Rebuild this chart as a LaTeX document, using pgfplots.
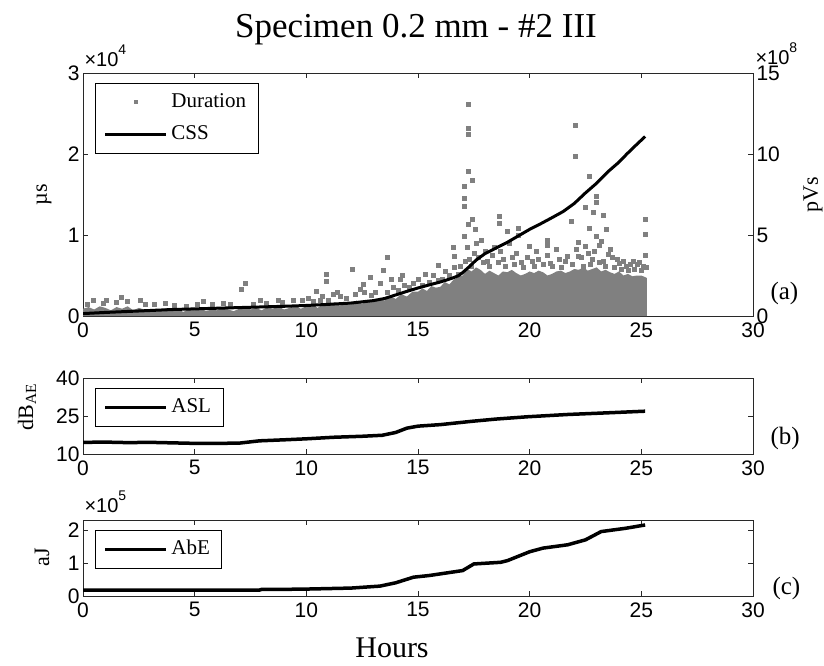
\documentclass[border=0pt]{standalone}
\usepackage{fontspec}
\setmainfont{Liberation Serif}
\newfontfamily\tickfont{Liberation Sans}
\usepackage{pgfplots}
\pgfplotsset{compat=1.18}
\definecolor{durgray}{RGB}{128,128,128}
\definecolor{axgray}{RGB}{40,40,40}
\pgfplotsset{
 mybase/.style={
   scale only axis, width=670pt,
   xmin=0,xmax=30, xtick={0,5,...,30},
   axis line style={axgray, line width=0.8pt},
   tick style={axgray, line width=0.8pt},
   major tick length=5pt,
   tick align=inside,
   /pgf/number format/assume math mode=true,
   ticklabel style={font=\tickfont\fontsize{21}{24}\selectfont},
   xticklabel style={yshift=-3pt},
   scaled ticks=false,
   label style={font=\fontsize{22}{26}\selectfont},
   legend cell align=left,
   legend style={draw=black, line width=0.8pt, inner xsep=8.5pt, inner ysep=3pt,
     at={(axis description cs:0.0179,0.959)}, anchor=north west,
     nodes={inner xsep=3.5pt, inner ysep=6pt, text height=15pt, text depth=5pt, font=\fontsize{21}{24}\selectfont}},
 },
 lineleg/.style={legend image code/.code={\draw[black,line width=3pt] (0pt,0pt) -- (61pt,0pt);}},
}
\begin{document}
\begin{tikzpicture}
\useasboundingbox (0,0) rectangle (824pt,-665pt);
\node[anchor=base, font=\fontsize{35}{40}\selectfont] at (416pt,-37pt) {Specimen 0.2 mm - \#2 III};
% ---------------- panel (a) ----------------
\begin{axis}[mybase, height=243pt, at={(83pt,-73pt)}, anchor=north west,
  ymin=0, ymax=3, ytick={0,1,2,3}, ytick pos=left,
  ylabel={µs}, ylabel style={at={(axis description cs:-0.058,0.5)}, anchor=center}]
\addlegendimage{legend image code/.code={\path[draw=none,fill=none] (0pt,0pt) -- (61pt,0pt); \fill[durgray,draw=none] (29pt,-2pt) rectangle (33pt,2pt);}}
\addlegendentry{Duration}
\addlegendimage{lineleg}
\addlegendentry{CSS}
% dense body of the Duration hits (units 1e4 us)
\addplot[fill=durgray, draw=none, forget plot] coordinates {
(0,0.09) (0.25,0.11) (0.5,0.08) (0.75,0.12) (1.0,0.1) (1.25,0.07) (1.5,0.11) (1.75,0.09)
(2.0,0.12) (2.25,0.07) (2.5,0.1) (2.75,0.08) (3.0,0.06) (3.25,0.09) (3.5,0.07) (3.75,0.1)
(4.0,0.06) (4.25,0.08) (4.5,0.05) (4.75,0.09) (5.0,0.07) (5.25,0.1) (5.5,0.06) (5.75,0.08)
(6.0,0.07) (6.25,0.11) (6.5,0.08) (6.75,0.06) (7.0,0.09) (7.25,0.12) (7.5,0.08) (7.75,0.1)
(8.0,0.07) (8.25,0.11) (8.5,0.09) (8.75,0.12) (9.0,0.08) (9.25,0.1) (9.5,0.13) (9.75,0.09)
(10,0.12) (10.25,0.15) (10.5,0.1) (10.75,0.14) (11,0.12) (11.25,0.17) (11.5,0.13) (11.75,0.16)
(12,0.14) (12.25,0.19) (12.5,0.15) (12.75,0.2) (13,0.17) (13.25,0.22) (13.5,0.19) (13.75,0.25)
(14,0.21) (14.25,0.27) (14.5,0.24) (14.75,0.3)
(15.0,0.3) (15.2,0.34) (15.4,0.31) (15.6,0.37) (15.8,0.35) (16.0,0.36) (16.2,0.42) (16.4,0.39)
(16.6,0.45) (16.8,0.48) (17.0,0.5) (17.2,0.58) (17.4,0.55) (17.6,0.6) (17.8,0.57) (18.0,0.52)
(18.2,0.56) (18.4,0.53) (18.6,0.5) (18.8,0.55) (19.0,0.54) (19.2,0.57) (19.4,0.53) (19.6,0.5)
(19.8,0.52) (20.0,0.55) (20.2,0.53) (20.4,0.56) (20.6,0.54) (20.8,0.5) (21.0,0.52) (21.2,0.55)
(21.4,0.56) (21.6,0.53) (21.8,0.55) (22.0,0.58) (22.2,0.57) (22.4,0.6) (22.6,0.56) (22.8,0.58)
(23.0,0.6) (23.2,0.55) (23.4,0.57) (23.6,0.54) (23.8,0.52) (24.0,0.55) (24.2,0.5) (24.4,0.52)
(24.6,0.49) (24.8,0.5) (25.0,0.5) (25.25,0.47)
} \closedcycle;
% isolated Duration hits
\addplot[only marks, mark=square*, mark size=2pt, durgray, mark options={draw=none}, forget plot] coordinates {
(0.46,0.2) (1.06,0.2) (1.73,0.23) (2.55,0.2) (3.67,0.16) (5.37,0.18) (6.27,0.16) (7.1,0.33) (7.25,0.41)
(7.93,0.2) (8.73,0.2) (9.4,0.2) (10.46,0.31) (10.88,0.52) (10.88,0.43) (11.2,0.27) (12.05,0.58)
(12.54,0.39) (12.85,0.48) (13.44,0.56) (13.64,0.72) (14.2,0.45) (15.31,0.52) (15.9,0.63)
(16.58,0.85) (16.6,0.74) (17.07,1.6) (17.07,1.45) (17.07,1.36) (17.07,0.99) (17.23,2.61)
(17.23,2.32) (17.23,2.24) (17.23,1.79) (17.23,1.13) (17.43,1.68) (17.43,1.19) (17.5,0.78)
(17.58,1.07) (17.82,0.93) (18.63,1.23) (18.63,1.15) (19.0,1.05) (19.48,1.09) (19.48,1.0)
(19.97,0.86) (20.77,0.93) (20.77,0.88) (21.85,1.17) (22.06,2.35) (22.06,1.97) (22.17,0.91)
(22.17,0.74) (22.48,1.34) (22.62,0.77) (22.66,1.73) (22.67,1.09) (22.84,1.28) (23.0,1.48)
(23.0,1.41) (23.0,0.99) (23.1,0.87) (23.27,1.25) (23.42,1.07) (23.5,0.76) (24.64,0.68)
(25.17,1.19) (25.17,1.01) (25.17,0.75)
(0.2,0.15) (0.9,0.16) (1.5,0.17) (2.0,0.18) (2.8,0.15) (3.2,0.14) (4.1,0.13) (4.6,0.12)
(5.1,0.14) (5.8,0.15) (6.6,0.14) (7.6,0.15) (8.2,0.16) (8.9,0.17) (9.8,0.19) (10.1,0.22)
(10.6,0.2) (11.5,0.24) (12.2,0.27) (12.6,0.3) (13.1,0.3) (13.9,0.35) (14.4,0.38) (14.8,0.4)
(15.5,0.42) (16.1,0.45) (16.4,0.5) (16.9,0.62) (17.3,0.7) (17.7,0.72) (18.1,0.68) (18.3,0.75)
(18.8,0.7) (19.2,0.72) (19.6,0.66) (20.1,0.68) (20.4,0.7) (20.9,0.65) (21.3,0.7) (21.6,0.68)
(22.3,0.72) (22.8,0.7) (23.3,0.68) (23.7,0.72) (24.0,0.65) (24.3,0.62) (24.8,0.64) (25.1,0.62)
(10.3,0.18) (10.7,0.25) (11.0,0.2) (11.4,0.3) (11.8,0.22) (12.4,0.33) (12.9,0.26) (13.3,0.4)
(13.6,0.3) (13.8,0.45) (14.1,0.32) (14.3,0.5) (14.6,0.36) (15.0,0.45) (15.2,0.38) (15.7,0.5)
(15.9,0.44) (16.2,0.55) (16.6,0.6) (16.8,0.52)
(17.1,0.68) (17.2,0.85) (17.4,0.62) (17.6,0.9) (17.9,0.66) (18.0,0.8) (18.2,0.62) (18.4,0.85)
(18.6,0.66) (18.7,0.8) (18.9,0.62) (19.1,0.9) (19.3,0.64) (19.4,0.78) (19.7,0.6) (19.9,0.72)
(20.2,0.62) (20.3,0.8) (20.6,0.64) (20.8,0.75) (21.0,0.62) (21.2,0.82) (21.4,0.6) (21.7,0.74)
(21.9,0.64) (22.1,0.82) (22.4,0.62) (22.5,0.86) (22.7,0.64) (22.9,0.8) (23.1,0.66) (23.2,0.92)
(23.4,0.62) (23.6,0.82) (23.8,0.6) (23.9,0.7) (24.1,0.58) (24.2,0.68) (24.4,0.56) (24.5,0.64)
(24.7,0.58) (24.9,0.66) (25.0,0.56) (25.2,0.6)
};
\end{axis}
\begin{axis}[mybase, height=243pt, at={(83pt,-73pt)}, anchor=north west,
  axis x line=none, axis y line*=right, tick align=inside,
  ymin=0, ymax=15, ytick={0,5,10,15},
  ylabel={pVs}, ylabel style={at={(axis description cs:1.0896,0.5)}, anchor=center}]
\addplot[black, line width=3pt] coordinates {
(0,0.15) (1,0.22) (2,0.28) (3,0.34) (4,0.4) (5,0.44) (6,0.48) (7,0.52) (8,0.56) (9,0.6)
(10,0.65) (11,0.72) (12,0.8) (13,0.95) (13.5,1.08) (14,1.3) (14.5,1.52) (15,1.73) (15.5,1.92)
(16,2.1) (16.5,2.32) (16.8,2.48) (17,2.68) (17.3,3.05) (17.6,3.45) (18,3.85) (18.5,4.2)
(19,4.55) (19.5,4.95) (20,5.35) (20.5,5.7) (21,6.07) (21.5,6.45) (22,6.95) (22.5,7.6)
(23,8.2) (23.5,8.9) (24,9.5) (24.35,10.0) (24.8,10.6) (25.17,11.08)
};
\end{axis}
\node[anchor=base west, font=\tickfont\fontsize{20}{22}\selectfont] at (81pt,-66pt) {×10\raisebox{12pt}{\fontsize{14}{15}\selectfont 4}};
\node[anchor=base west, font=\tickfont\fontsize{20}{22}\selectfont] at (752pt,-64pt) {×10\raisebox{12pt}{\fontsize{14}{15}\selectfont 8}};
\node[anchor=west, font=\fontsize{25}{28}\selectfont] at (767pt,-293pt) {(a)};
% ---------------- panel (b) ----------------
\begin{axis}[mybase, height=76pt, at={(83pt,-378pt)}, anchor=north west,
  ymin=10, ymax=40, ytick={10,25,40},
  legend style={at={(axis description cs:0.0179,0.868)}},
  ylabel={dB\textsubscript{AE}}, ylabel style={at={(axis description cs:-0.0836,0.62)}, anchor=center}]
\addlegendimage{lineleg}
\addlegendentry{ASL}
\addplot[black, line width=3.5pt, forget plot] coordinates {
(0,14.6) (1,14.7) (2,14.5) (3,14.6) (4,14.4) (5,14.2) (6,14.2) (7,14.3) (7.9,15.2) (9,15.6)
(10,16.0) (11.2,16.6) (12.5,17.0) (13.4,17.4) (14.0,18.5) (14.5,20.2) (15,21) (16,21.6)
(17.4,22.9) (18.5,23.8) (19.9,24.7) (21.7,25.6) (23.6,26.3) (25.17,26.9)
};
\end{axis}
\node[anchor=west, font=\fontsize{25}{28}\selectfont] at (767pt,-438pt) {(b)};
% ---------------- panel (c) ----------------
\begin{axis}[mybase, height=76pt, at={(83pt,-520pt)}, anchor=north west,
  ymin=0, ymax=2.3, ytick={0,1,2},
  legend style={at={(axis description cs:0.0179,0.868)}},
  ylabel={aJ}, ylabel style={at={(axis description cs:-0.061,0.51)}, anchor=center}]
\addlegendimage{lineleg}
\addlegendentry{AbE}
\addplot[black, line width=3.5pt, forget plot] coordinates {
(0,0.18) (2,0.18) (4,0.18) (6,0.18) (7.9,0.18) (8,0.2) (8.8,0.2) (10,0.21) (12,0.24) (13.3,0.3)
(14,0.4) (14.8,0.57) (15.5,0.62) (16.5,0.72) (17.0,0.77) (17.5,0.97) (18.7,1.02) (19.0,1.07)
(20.0,1.34) (20.6,1.45) (21.7,1.55) (22.5,1.7) (23.2,1.95) (24.3,2.05) (25.17,2.15)
};
\end{axis}
\node[anchor=base west, font=\tickfont\fontsize{20}{22}\selectfont] at (81pt,-512pt) {×10\raisebox{12pt}{\fontsize{14}{15}\selectfont 5}};
\node[anchor=west, font=\fontsize{25}{28}\selectfont] at (769pt,-588pt) {(c)};
\node[anchor=base, font=\fontsize{30}{34}\selectfont] at (392pt,-657pt) {Hours};
\end{tikzpicture}
\end{document}
